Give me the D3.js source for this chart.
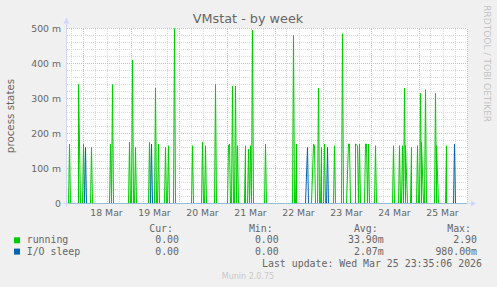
<!DOCTYPE html>
<html>
<head>
<meta charset="utf-8">
<script src="https://cdn.jsdelivr.net/npm/d3@7"></script>
<style>
  body { margin: 0; background: #f0f0f0; }
  svg { display: block; }
  text { font-family: "DejaVu Sans", sans-serif; fill: #666; }
  .mono { font-family: "DejaVu Sans Mono", monospace; }
</style>
</head>
<body>
<svg id="chart" width="497" height="287"></svg>
<script>
// values (30 min averages), everything else is 0
var runningTimes = [
  "2026-03-17T17:00", "2026-03-17T22:00", "2026-03-18T00:00", "2026-03-18T04:00",
  "2026-03-18T13:30", "2026-03-18T14:30", "2026-03-18T23:00", "2026-03-19T00:30",
  "2026-03-19T02:00", "2026-03-19T09:00", "2026-03-19T12:00", "2026-03-19T13:30",
  "2026-03-19T17:00", "2026-03-19T18:30", "2026-03-19T21:30", "2026-03-20T06:30",
  "2026-03-20T11:30", "2026-03-20T13:00", "2026-03-20T18:00", "2026-03-21T00:30",
  "2026-03-21T01:00", "2026-03-21T02:30", "2026-03-21T04:00", "2026-03-21T05:00",
  "2026-03-21T09:00", "2026-03-21T10:30", "2026-03-21T11:30", "2026-03-21T12:30",
  "2026-03-21T19:00", "2026-03-22T09:00", "2026-03-22T10:30", "2026-03-22T19:00",
  "2026-03-22T19:30", "2026-03-22T21:30", "2026-03-22T23:00", "2026-03-23T00:30",
  "2026-03-23T05:30", "2026-03-23T09:30", "2026-03-23T12:30", "2026-03-23T13:00",
  "2026-03-23T16:30", "2026-03-23T17:00", "2026-03-23T18:00", "2026-03-23T21:00",
  "2026-03-23T21:30", "2026-03-23T22:30", "2026-03-24T02:00", "2026-03-24T11:00",
  "2026-03-24T14:00", "2026-03-24T15:30", "2026-03-24T16:30", "2026-03-24T17:30",
  "2026-03-24T20:00", "2026-03-24T23:00", "2026-03-25T00:30", "2026-03-25T01:30",
  "2026-03-25T03:00", "2026-03-25T08:00", "2026-03-25T09:00", "2026-03-25T13:30"
];
var runningValues = [
  0.17, 0.34, 0.17, 0.16,
  0.17, 0.34, 0.175, 0.41,
  0.16, 0.175, 0.33, 0.17,
  0.16, 0.165, 0.5, 0.165,
  0.175, 0.165, 0.34, 0.165,
  0.17, 0.335, 0.335, 0.165,
  0.165, 0.155, 0.165, 0.495,
  0.17, 0.48, 0.17, 0.17,
  0.165, 0.33, 0.16, 0.17,
  0.165, 0.485, 0.17, 0.17,
  0.17, 0.165, 0.17, 0.17,
  0.17, 0.17, 0.165, 0.165,
  0.165, 0.165, 0.33, 0.165,
  0.16, 0.165, 0.315, 0.175,
  0.325, 0.315, 0.165, 0.165
];
var ioTimes = ["2026-03-18T01:00", "2026-03-19T10:00", "2026-03-22T16:00", "2026-03-23T02:00", "2026-03-25T17:30"];
var ioValues = [0.16, 0.17, 0.16, 0.16, 0.17];

var seriesNames = ["running", "I/O sleep"];
var seriesColors = ["#00cc00", "#0066b3"];
var curValues = ["0.00", "0.00"];
var minValues = ["0.00", "0.00"];
var avgValues = ["33.90m", "2.07m"];
var maxValues = ["2.90", "980.00m"];

var yTicks = [0, 0.1, 0.2, 0.3, 0.4, 0.5];
var dayTicks = ["2026-03-18", "2026-03-19", "2026-03-20", "2026-03-21",
                "2026-03-22", "2026-03-23", "2026-03-24", "2026-03-25"];

var parseT = d3.utcParse("%Y-%m-%dT%H:%M"),
    parseD = d3.utcParse("%Y-%m-%d");

var svg = d3.select("#chart"),
    plotL = 67, plotR = 467, plotT = 28.5, plotB = 203.5;

var x = d3.scaleUtc()
    .domain([parseT("2026-03-17T16:15"), parseT("2026-03-26T00:15")])
    .range([plotL, plotR]);
var y = d3.scaleLinear().domain([0, 0.5]).range([plotB, plotT]);

// 30 minute steps up to the last update
var steps = d3.utcMinute.every(30).range(parseT("2026-03-17T16:30"), parseT("2026-03-25T23:31"));

function buildSeries(times, values) {
  var lookup = new Map();
  times.forEach(function (t, i) { lookup.set(+parseT(t), values[i]); });
  return steps.map(function (d) {
    return { t: d, v: lookup.has(+d) ? lookup.get(+d) : 0 };
  });
}
var series = [buildSeries(runningTimes, runningValues), buildSeries(ioTimes, ioValues)];

svg.append("rect").attr("x", plotL).attr("y", plotT - 0.5)
    .attr("width", plotR - plotL).attr("height", plotB - plotT + 0.5)
    .attr("fill", "#fff");

// grid
var grid = svg.append("g").attr("shape-rendering", "crispEdges");
var minorX = d3.utcHour.every(6).range(x.domain()[0], x.domain()[1]);
grid.selectAll(".mx").data(minorX).enter().append("line")
    .attr("x1", function (d) { return Math.round(x(d)) + 0.5; })
    .attr("x2", function (d) { return Math.round(x(d)) + 0.5; })
    .attr("y1", plotT).attr("y2", plotB)
    .attr("stroke", function (d) { return d.getUTCHours() === 0 ? "#f2b0b0" : "#dadada"; })
    .attr("stroke-dasharray", "1,1");
var minorY = d3.range(0, 0.5001, 0.02);
grid.selectAll(".my").data(minorY).enter().append("line")
    .attr("y1", function (d) { return Math.round(y(d) - 0.5) + 0.5; })
    .attr("y2", function (d) { return Math.round(y(d) - 0.5) + 0.5; })
    .attr("x1", plotL).attr("x2", plotR)
    .attr("stroke", function (d) { return Math.abs(d * 10 - Math.round(d * 10)) < 1e-6 ? "#f2b0b0" : "#dadada"; })
    .attr("stroke-dasharray", "1,1");

// data
var line = d3.line()
    .x(function (d) { return Math.round(x(d.t)) + 0.5; })
    .y(function (d) { return y(d.v); });
series.forEach(function (s, i) {
  svg.append("path").datum(s)
      .attr("d", line)
      .attr("fill", "none")
      .attr("stroke", seriesColors[i])
      .attr("stroke-width", 1);
});

// axes
var axisCol = "#cfd6f8";
svg.append("line").attr("x1", plotL - 4).attr("x2", plotR + 4)
    .attr("y1", plotB).attr("y2", plotB)
    .attr("stroke", axisCol).attr("stroke-opacity", 0.7).attr("shape-rendering", "crispEdges");
svg.append("line").attr("x1", plotL - 0.5).attr("x2", plotL - 0.5)
    .attr("y1", plotB + 3).attr("y2", plotT - 5)
    .attr("stroke", axisCol).attr("shape-rendering", "crispEdges");
svg.append("path").attr("d", "M" + (plotR + 4) + "," + (plotB - 3) + "l5,3l-5,3z").attr("fill", axisCol);
svg.append("path").attr("d", "M" + (plotL - 3.5) + "," + (plotT - 5) + "l3,-6l3,6z").attr("fill", axisCol);

// tick labels
svg.selectAll(".yl").data(yTicks).enter().append("text")
    .attr("x", 61).attr("y", function (d) { return y(d) + 3.3; })
    .attr("text-anchor", "end").style("font-size", "9.3px")
    .text(function (d) { return d === 0 ? "0" : d3.format(".0f")(d * 1000) + " m"; });
svg.selectAll(".xl").data(dayTicks).enter().append("text")
    .attr("x", function (d) { return x(d3.utcHour.offset(parseD(d), 12)); })
    .attr("y", 216).attr("text-anchor", "middle").style("font-size", "9.3px")
    .text(function (d) { return d3.utcFormat("%d %b")(parseD(d)); });

svg.append("text").attr("x", 248).attr("y", 23.3).attr("text-anchor", "middle")
    .style("font-size", "12.8px").text("VMstat - by week");
svg.append("text").attr("transform", "translate(13.5,116) rotate(-90)")
    .attr("text-anchor", "middle").style("font-size", "10.3px").text("process states");
svg.append("text").attr("transform", "translate(484,5) rotate(90)")
    .style("font-size", "9.1px").style("fill", "#c4c4c4").text("RRDTOOL / TOBI OETIKER");

// legend
var cols = [179, 278.7, 383.7, 477],
    heads = ["Cur:", "Min:", "Avg:", "Max:"],
    vals = [curValues, minValues, avgValues, maxValues];
var leg = svg.append("g").attr("class", "mono").style("font-size", "9.9px");
heads.forEach(function (h, j) {
  leg.append("text").attr("class", "mono").attr("x", cols[j] - 6).attr("y", 232)
      .attr("text-anchor", "end").text(h);
});
seriesNames.forEach(function (n, i) {
  var yy = 243.3 + i * 11.3;
  leg.append("rect").attr("x", 14).attr("y", yy - 6).attr("width", 6).attr("height", 6)
      .attr("fill", seriesColors[i]);
  leg.append("text").attr("class", "mono").attr("x", 26.7).attr("y", yy).text(n);
  vals.forEach(function (v, j) {
    leg.append("text").attr("class", "mono").attr("x", cols[j]).attr("y", yy)
        .attr("text-anchor", "end").text(v[i]);
  });
});
leg.append("text").attr("class", "mono").attr("x", 482).attr("y", 267.3)
    .attr("text-anchor", "end").text("Last update: Wed Mar 25 23:35:06 2026");
svg.append("text").attr("x", 248).attr("y", 279).attr("text-anchor", "middle")
    .style("font-size", "8px").style("fill", "#c8c8c8").text("Munin 2.0.75");
</script>
</body>
</html>
